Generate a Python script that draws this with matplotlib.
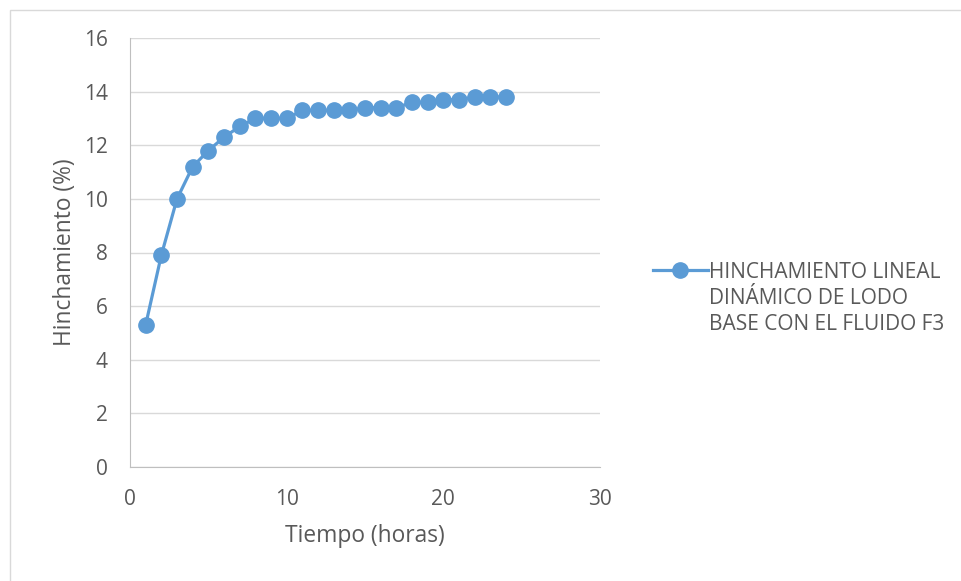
import matplotlib.pyplot as plt
from matplotlib.patches import Rectangle

# datos
horas = [1, 2, 3, 4, 5, 6, 7, 8, 9, 10, 11, 12, 13, 14, 15, 16, 17, 18, 19, 20, 21, 22, 23, 24]
hinchamiento = [5.3, 7.9, 10.0, 11.2, 11.8, 12.3, 12.7, 13.0, 13.0, 13.0, 13.3, 13.3,
                13.3, 13.3, 13.4, 13.4, 13.4, 13.6, 13.6, 13.7, 13.7, 13.8, 13.8, 13.8]
serie = 'HINCHAMIENTO LINEAL\nDINÁMICO DE LODO\nBASE CON EL FLUIDO F3'

azul = '#5B9BD5'
gris_texto = '#595959'

plt.rcParams['font.family'] = ['Open Sans', 'DejaVu Sans']

fig = plt.figure(figsize=(9.61, 5.81), dpi=100)
ax = fig.add_axes([130 / 961, 1 - 467 / 581, 470 / 961, 429 / 581])

# marco del area del grafico
fig.patches.append(Rectangle((10 / 961, -0.1), 1.1, (581 - 10) / 581 + 0.1,
                             transform=fig.transFigure, fill=False,
                             edgecolor='#D9D9D9', linewidth=1))

ax.plot(horas, hinchamiento, color=azul, linewidth=2.3, marker='o',
        markersize=11, label=serie, zorder=3)

ax.set_xlim(0, 30)
ax.set_ylim(0, 16)
ax.set_xticks(range(0, 31, 10))
ax.set_yticks(range(0, 17, 2))
ax.grid(axis='y', color='#D9D9D9', linewidth=1)
ax.set_axisbelow(True)
for s in ['top', 'right']:
    ax.spines[s].set_visible(False)
for s in ['left', 'bottom']:
    ax.spines[s].set_color('#BFBFBF')
ax.tick_params(axis='both', length=0, labelsize=15, colors=gris_texto)
ax.tick_params(axis='y', pad=16)
ax.tick_params(axis='x', pad=16)

ax.set_xlabel('Tiempo (horas)', fontsize=16.4, color=gris_texto, labelpad=10)
ax.set_ylabel('Hinchamiento (%)', fontsize=16.4, color=gris_texto, labelpad=5)

leg = fig.legend(loc='upper left', bbox_to_anchor=(645 / 961, 1 - 254 / 581),
                 frameon=False, fontsize=15, handlelength=2.6, handletextpad=0.05,
                 labelcolor=gris_texto, borderaxespad=0)
for t in leg.get_texts():
    t.set_linespacing(1.3)
# alinear el simbolo con la primera linea del texto
for col in leg._legend_handle_box.get_children():
    for fila in col.get_children():
        fila.align = 'top'

fig.savefig('out.png', dpi=100)
